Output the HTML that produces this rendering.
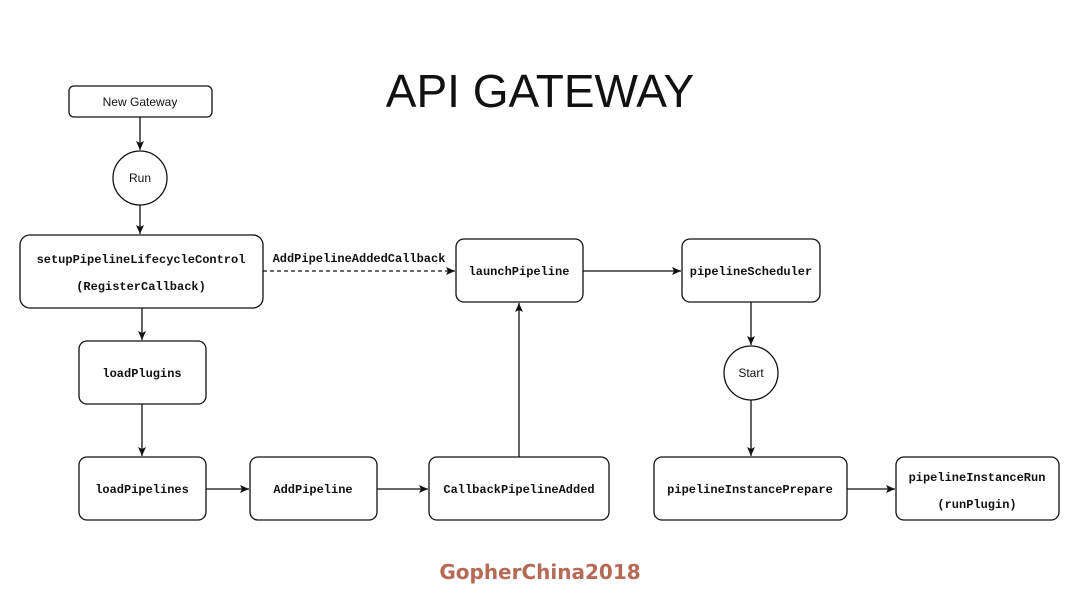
<!DOCTYPE html>
<html><head><style>
body{margin:0;background:#fff}
svg{display:block}
.m{font-family:"Liberation Mono",monospace;font-size:12px;font-weight:bold;fill:#111}
.s{font-family:"Liberation Sans",sans-serif;font-size:12px;fill:#111}
rect,circle{fill:#fff;stroke:#111;stroke-width:1.3}
line{stroke:#111;stroke-width:1.3}
</style></head><body>
<svg width="1080" height="608" viewBox="0 0 1080 608">
<defs><marker id="a" markerWidth="10" markerHeight="10" refX="9" refY="5" orient="auto" markerUnits="userSpaceOnUse"><path d="M0,1 L9,5 L0,9 L2,5z" fill="#111"/></marker></defs>
<text x="540" y="107" text-anchor="middle" font-family="Liberation Sans,sans-serif" font-size="46" font-weight="300" fill="#111">API GATEWAY</text>
<!-- connectors -->
<line x1="140" y1="117" x2="140" y2="150" marker-end="url(#a)"/>
<line x1="140" y1="205" x2="140" y2="234" marker-end="url(#a)"/>
<line x1="142" y1="308" x2="142" y2="340" marker-end="url(#a)"/>
<line x1="142" y1="404" x2="142" y2="456" marker-end="url(#a)"/>
<line x1="206" y1="489" x2="249" y2="489" marker-end="url(#a)"/>
<line x1="377" y1="489" x2="428" y2="489" marker-end="url(#a)"/>
<line x1="519" y1="457" x2="519" y2="303" marker-end="url(#a)"/>
<line x1="263" y1="271" x2="455" y2="271" stroke-dasharray="4,3" marker-end="url(#a)"/>
<line x1="583" y1="271" x2="681" y2="271" marker-end="url(#a)"/>
<line x1="751" y1="302" x2="751" y2="345" marker-end="url(#a)"/>
<line x1="751" y1="400" x2="751" y2="456" marker-end="url(#a)"/>
<line x1="847" y1="489" x2="895" y2="489" marker-end="url(#a)"/>
<!-- nodes -->
<rect x="69" y="86" width="143" height="31" rx="5"/>
<text class="s" x="140" y="106" text-anchor="middle">New Gateway</text>
<circle cx="140" cy="178" r="27"/>
<text class="s" x="140" y="182" text-anchor="middle">Run</text>
<rect x="20" y="235" width="243" height="73" rx="10"/>
<text class="m" x="141" y="263" text-anchor="middle">setupPipelineLifecycleControl</text>
<text class="m" x="141" y="290" text-anchor="middle">(RegisterCallback)</text>
<text class="m" x="359" y="262" text-anchor="middle">AddPipelineAddedCallback</text>
<rect x="79" y="341" width="127" height="63" rx="8"/>
<text class="m" x="142" y="377" text-anchor="middle">loadPlugins</text>
<rect x="79" y="457" width="127" height="63" rx="8"/>
<text class="m" x="142" y="493" text-anchor="middle">loadPipelines</text>
<rect x="250" y="457" width="127" height="63" rx="8"/>
<text class="m" x="313" y="493" text-anchor="middle">AddPipeline</text>
<rect x="429" y="457" width="180" height="63" rx="8"/>
<text class="m" x="519" y="493" text-anchor="middle">CallbackPipelineAdded</text>
<rect x="456" y="239" width="127" height="63" rx="8"/>
<text class="m" x="519" y="275" text-anchor="middle">launchPipeline</text>
<rect x="682" y="239" width="138" height="63" rx="8"/>
<text class="m" x="751" y="275" text-anchor="middle">pipelineScheduler</text>
<circle cx="751" cy="373" r="27"/>
<text class="s" x="751" y="377" text-anchor="middle">Start</text>
<rect x="654" y="457" width="193" height="63" rx="8"/>
<text class="m" x="750" y="493" text-anchor="middle">pipelineInstancePrepare</text>
<rect x="896" y="457" width="163" height="63" rx="8"/>
<text class="m" x="977" y="481" text-anchor="middle">pipelineInstanceRun</text>
<text class="m" x="977" y="508" text-anchor="middle">(runPlugin)</text>
<text x="540" y="579" text-anchor="middle" font-family="DejaVu Sans,sans-serif" font-size="20" font-weight="bold" fill="#b56a55">GopherChina2018</text>
</svg>
</body></html>
